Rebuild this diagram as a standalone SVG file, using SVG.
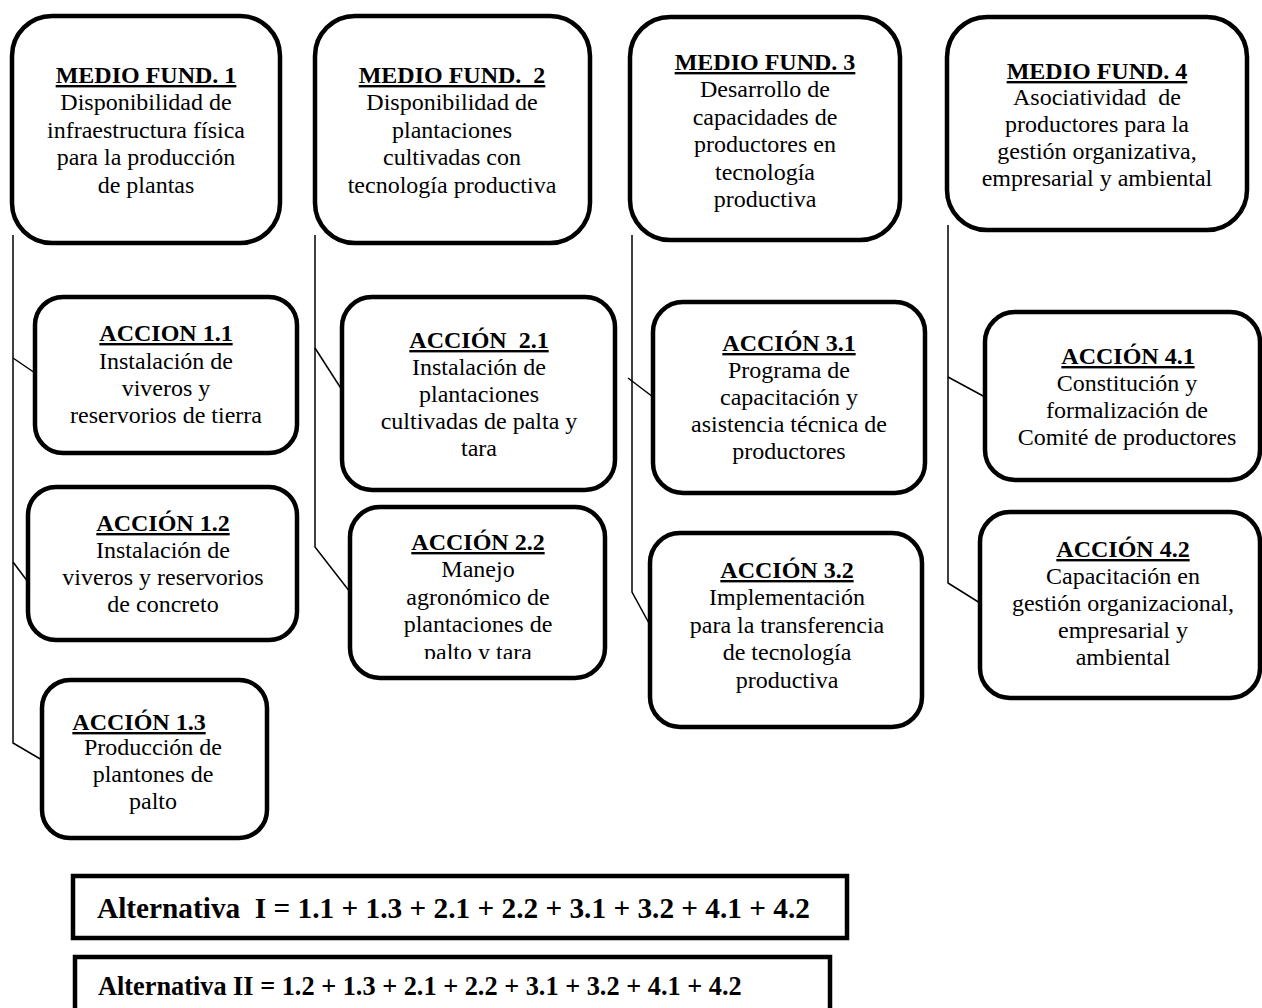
<svg xmlns="http://www.w3.org/2000/svg" width="1262" height="1008" viewBox="0 0 1262 1008">
<style>
.box{fill:#fff;stroke:#000;stroke-width:4.5}
.alt{fill:#fff;stroke:#000;stroke-width:4.5}
.con{fill:none;stroke:#000;stroke-width:1.5}
text{font-family:"Liberation Serif","Times New Roman",serif;font-size:24px;fill:#000;text-anchor:middle;white-space:pre}
.t{font-weight:bold;text-decoration:underline}
.a{font-weight:bold;text-anchor:start}
</style>
<defs>
<clipPath id="clip22"><rect x="350" y="507" width="255" height="152"/></clipPath>
</defs>
<g id="connectors">
<polyline class="con" points="13,235 13,743 42,760"/>
<line class="con" x1="13" y1="358" x2="35" y2="373"/>
<line class="con" x1="13" y1="562" x2="28" y2="582"/>
<polyline class="con" points="315,235 315,547 350,592"/>
<line class="con" x1="315" y1="348" x2="342" y2="390"/>
<polyline class="con" points="632,235 632,592 650,625"/>
<line class="con" x1="628" y1="378" x2="653" y2="397"/>
<polyline class="con" points="948,225 948,583 980,603"/>
<line class="con" x1="948" y1="377" x2="985" y2="397"/>
</g>
<g id="mf1">
<rect class="box" x="12" y="16" width="268" height="227" rx="40"/>
<text class="t" x="146" y="83">MEDIO FUND. 1</text>
<text x="146"><tspan x="146" y="110">Disponibilidad de</tspan><tspan x="146" y="137.5">infraestructura física</tspan><tspan x="146" y="165">para la producción</tspan><tspan x="146" y="192.5">de plantas</tspan></text>
</g>
<g id="mf2">
<rect class="box" x="315" y="16" width="275" height="227" rx="40"/>
<text class="t" x="452" y="83">MEDIO FUND.  2</text>
<text x="452"><tspan x="452" y="110">Disponibilidad de</tspan><tspan x="452" y="137.5">plantaciones</tspan><tspan x="452" y="165">cultivadas con</tspan><tspan x="452" y="192.5">tecnología productiva</tspan></text>
</g>
<g id="mf3">
<rect class="box" x="630" y="17" width="270" height="223" rx="40"/>
<text class="t" x="765" y="70">MEDIO FUND. 3</text>
<text x="765"><tspan x="765" y="97">Desarrollo de</tspan><tspan x="765" y="124.5">capacidades de</tspan><tspan x="765" y="152">productores en</tspan><tspan x="765" y="179.5">tecnología</tspan><tspan x="765" y="207">productiva</tspan></text>
</g>
<g id="mf4">
<rect class="box" x="947" y="17" width="300" height="213" rx="40"/>
<text class="t" x="1097" y="79">MEDIO FUND. 4</text>
<text x="1097"><tspan x="1097" y="105">Asociatividad  de</tspan><tspan x="1097" y="132">productores para la</tspan><tspan x="1097" y="159">gestión organizativa,</tspan><tspan x="1097" y="186">empresarial y ambiental</tspan></text>
</g>
<g id="a11">
<rect class="box" x="35" y="297" width="262" height="156" rx="28"/>
<text class="t" x="166" y="341">ACCION 1.1</text>
<text x="166"><tspan x="166" y="369">Instalación de</tspan><tspan x="166" y="396">viveros y</tspan><tspan x="166" y="423">reservorios de tierra</tspan></text>
</g>
<g id="a12">
<rect class="box" x="28" y="487" width="269" height="153" rx="28"/>
<text class="t" x="163" y="531">ACCIÓN 1.2</text>
<text x="163"><tspan x="163" y="558">Instalación de</tspan><tspan x="163" y="585">viveros y reservorios</tspan><tspan x="163" y="612">de concreto</tspan></text>
</g>
<g id="a13">
<rect class="box" x="42" y="680" width="225" height="158" rx="28"/>
<text class="t" x="139" y="730">ACCIÓN 1.3</text>
<text x="153"><tspan x="153" y="755">Producción de</tspan><tspan x="153" y="782">plantones de</tspan><tspan x="153" y="809">palto</tspan></text>
</g>
<g id="a21">
<rect class="box" x="342" y="297" width="273" height="193" rx="30"/>
<text class="t" x="479" y="348">ACCIÓN  2.1</text>
<text x="479"><tspan x="479" y="375">Instalación de</tspan><tspan x="479" y="402">plantaciones</tspan><tspan x="479" y="429">cultivadas de palta y</tspan><tspan x="479" y="456">tara</tspan></text>
</g>
<g id="a22">
<rect class="box" x="350" y="507" width="255" height="171" rx="30"/>
<text class="t" x="478" y="550">ACCIÓN 2.2</text>
<text x="478" clip-path="url(#clip22)"><tspan x="478" y="577">Manejo</tspan><tspan x="478" y="605">agronómico de</tspan><tspan x="478" y="632">plantaciones de</tspan><tspan x="478" y="660">palto y tara</tspan></text>
</g>
<g id="a31">
<rect class="box" x="653" y="302" width="272" height="191" rx="30"/>
<text class="t" x="789" y="351">ACCIÓN 3.1</text>
<text x="789"><tspan x="789" y="378">Programa de</tspan><tspan x="789" y="405">capacitación y</tspan><tspan x="789" y="432">asistencia técnica de</tspan><tspan x="789" y="459">productores</tspan></text>
</g>
<g id="a32">
<rect class="box" x="650" y="533" width="272" height="194" rx="30"/>
<text class="t" x="787" y="578">ACCIÓN 3.2</text>
<text x="787"><tspan x="787" y="605">Implementación</tspan><tspan x="787" y="633">para la transferencia</tspan><tspan x="787" y="660">de tecnología</tspan><tspan x="787" y="688">productiva</tspan></text>
</g>
<g id="a41">
<rect class="box" x="985" y="312" width="275" height="168" rx="30"/>
<text class="t" x="1128" y="364">ACCIÓN 4.1</text>
<text x="1127"><tspan x="1127" y="391">Constitución y</tspan><tspan x="1127" y="418">formalización de</tspan><tspan x="1127" y="445">Comité de productores</tspan></text>
</g>
<g id="a42">
<rect class="box" x="980" y="512" width="280" height="186" rx="30"/>
<text class="t" x="1123" y="557">ACCIÓN 4.2</text>
<text x="1123"><tspan x="1123" y="584">Capacitación en</tspan><tspan x="1123" y="611">gestión organizacional,</tspan><tspan x="1123" y="638">empresarial y</tspan><tspan x="1123" y="665">ambiental</tspan></text>
</g>
<g id="alt1">
<rect class="alt" x="73" y="876" width="774" height="62"/>
<text class="a" x="97" y="918" style="font-size:29.3px">Alternativa  I = 1.1 + 1.3 + 2.1 + 2.2 + 3.1 + 3.2 + 4.1 + 4.2</text>
</g>
<g id="alt2">
<rect class="alt" x="75" y="957" width="755" height="62"/>
<text class="a" x="98" y="995" style="font-size:26.3px">Alternativa II = 1.2 + 1.3 + 2.1 + 2.2 + 3.1 + 3.2 + 4.1 + 4.2</text>
</g>
</svg>
